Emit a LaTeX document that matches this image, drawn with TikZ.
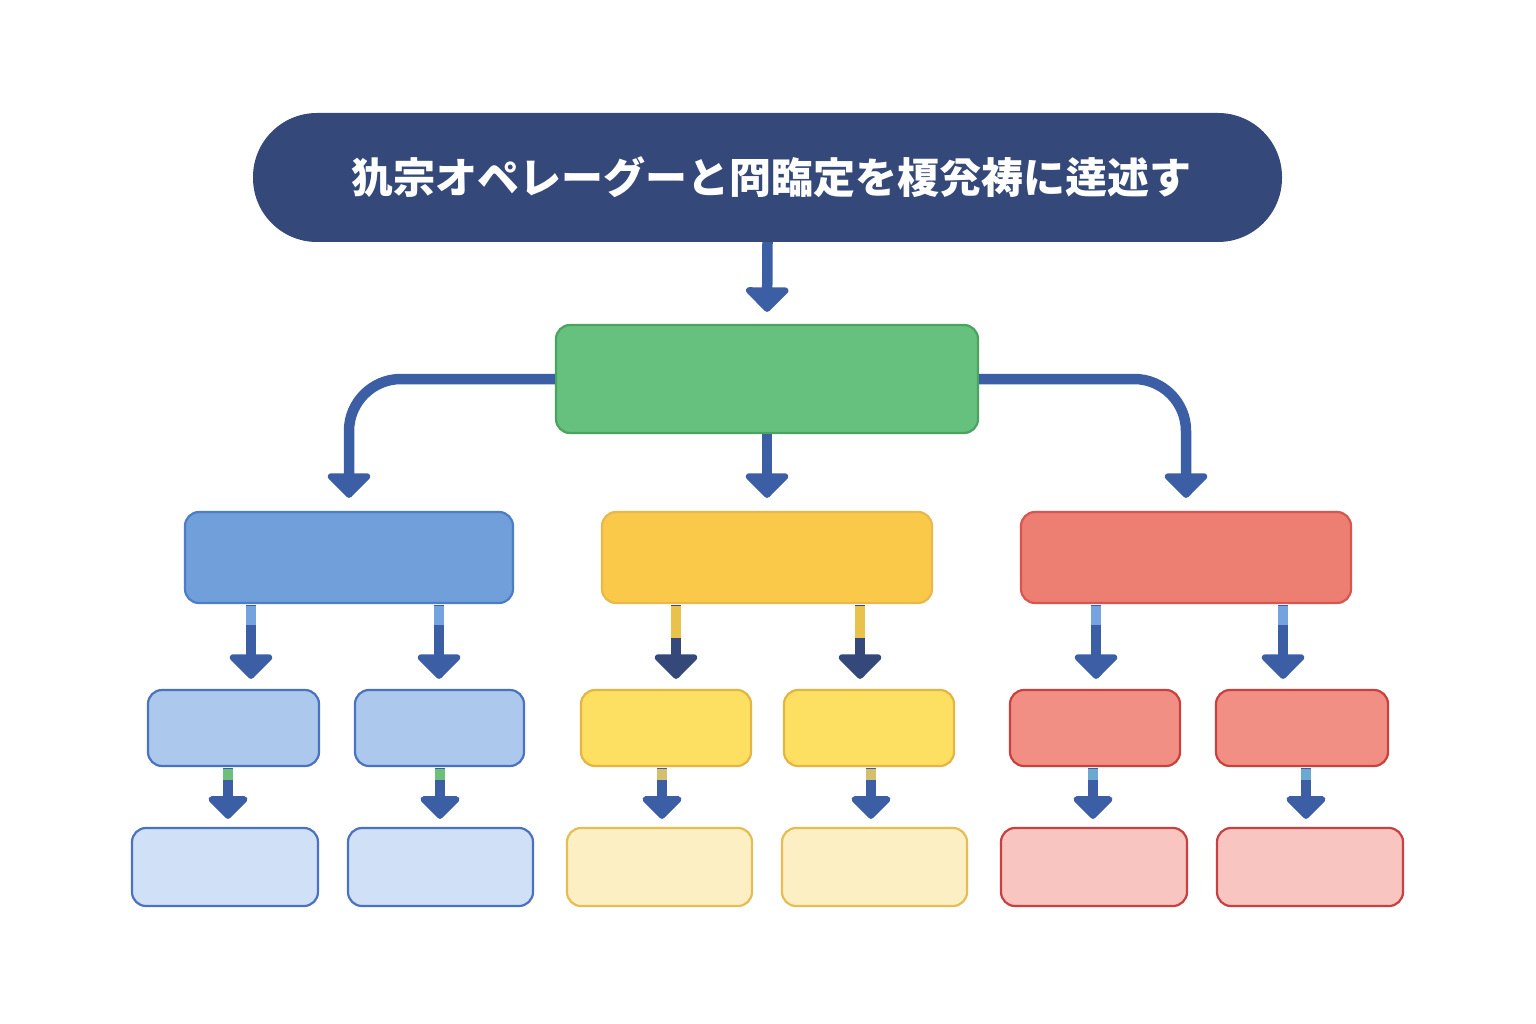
\documentclass[tikz,border=0pt]{standalone}
\usepackage{fontspec}
\newfontfamily\cjk{Noto Sans CJK JP}
\usetikzlibrary{arrows.meta,calc}
\definecolor{navy}{HTML}{34497A}
\definecolor{arrowc}{HTML}{3C5EA5}
\definecolor{gfill}{HTML}{66C17F}\definecolor{gline}{HTML}{4AA45F}
\definecolor{b2f}{HTML}{719FDA}\definecolor{b2l}{HTML}{4C7DC8}
\definecolor{b3f}{HTML}{ADC8ED}\definecolor{b3l}{HTML}{4A72C0}
\definecolor{b4f}{HTML}{CFE0F7}\definecolor{b4l}{HTML}{4A72C0}
\definecolor{y2f}{HTML}{FBC94A}\definecolor{y2l}{HTML}{E8B84A}
\definecolor{y3f}{HTML}{FDDF62}\definecolor{y3l}{HTML}{E3B545}
\definecolor{y4f}{HTML}{FDEFC4}\definecolor{y4l}{HTML}{E6BD55}
\definecolor{r2f}{HTML}{EC7F72}\definecolor{r2l}{HTML}{D9554F}
\definecolor{r3f}{HTML}{F28F85}\definecolor{r3l}{HTML}{C9413D}
\definecolor{r4f}{HTML}{F9C5C0}\definecolor{r4l}{HTML}{C94040}
\definecolor{lblue}{HTML}{74A3E0}
\definecolor{lgreen}{HTML}{6CC07A}
\definecolor{lyel}{HTML}{E9C24C}
\definecolor{ltan}{HTML}{D4BF6E}
\definecolor{lcyan}{HTML}{6AAAD0}
\tikzset{
  boxn/.style={draw, line width=2.2pt, rounded corners=14pt, minimum height=#1, inner sep=0pt},
  arr/.style={draw=arrowc, line width=10.5pt, -{Triangle[width=50pt,length=26pt,round]}},
  arrs/.style={draw=arrowc, line width=10pt, -{Triangle[width=46pt,length=24pt,round]}},
  seg/.style={line width=10.5pt}
}
\newcommand{\bx}[7]{% name, x1, x2, y1, y2, fill, line
  \node[boxn=#5pt-#4pt, minimum width=#3pt-#2pt, fill=#6, draw=#7] (#1) at ({(#2+#3)/2},{(#4+#5)/2}) {};}
\begin{document}
\begin{tikzpicture}[x=1pt,y=-1pt]
\useasboundingbox[fill=white] (0,0) rectangle (1536,1024);
% title
\node[fill=navy, rounded corners=64pt, minimum width=1029pt, minimum height=129pt, inner sep=0pt] (title) at (767.5,177.5) {};
\node[text=white, font=\cjk\bfseries\fontsize{42pt}{46pt}\selectfont] (ttext) at (771,177) {犰宗オペレーグーと冏臨定を榎兊祷に逹述す};
% green
\bx{green}{556}{978}{325}{433}{gfill}{gline}
% level 2
\bx{bl}{185}{513}{512}{603}{b2f}{b2l}
\bx{ye}{602}{932}{512}{603}{y2f}{y2l}
\bx{re}{1021}{1351}{512}{603}{r2f}{r2l}
% level 3
\bx{bla}{148}{319}{690}{766}{b3f}{b3l}
\bx{blb}{355}{524}{690}{766}{b3f}{b3l}
\bx{yea}{581}{751}{690}{766}{y3f}{y3l}
\bx{yeb}{784}{954}{690}{766}{y3f}{y3l}
\bx{rea}{1010}{1180}{690}{766}{r3f}{r3l}
\bx{reb}{1216}{1388}{690}{766}{r3f}{r3l}
% level 4
\bx{blc}{132}{318}{828}{906}{b4f}{b4l}
\bx{bld}{348}{533}{828}{906}{b4f}{b4l}
\bx{yec}{567}{752}{828}{906}{y4f}{y4l}
\bx{yed}{782}{967}{828}{906}{y4f}{y4l}
\bx{rec}{1001}{1187}{828}{906}{r4f}{r4l}
\bx{red}{1217}{1403}{828}{906}{r4f}{r4l}
% arrows top
\draw[arr, shorten >=12pt] (title.south) -- (green.north);
\draw[arr, shorten >=13pt] (green.south) -- (ye.north);
\draw[arr, shorten >=13pt, rounded corners=52pt] (green.west) -| (bl.north);
\draw[arr, shorten >=13pt, rounded corners=52pt] (green.east) -| (re.north);
% level 2 -> 3
\foreach \p/\c/\x/\lc/\ly/\ac in {bl/bla/251/lblue/625/arrowc, bl/blb/439/lblue/625/arrowc,
  ye/yea/676/lyel/638/navy, ye/yeb/860/lyel/638/navy,
  re/rea/1096/lblue/625/arrowc, re/reb/1283/lblue/625/arrowc}{
  \draw[arr, draw=\ac, shorten >=10pt, shorten <=1pt] (\p.south -| \x,0) -- (\c.north -| \x,0);
  \draw[seg, draw=\lc] ($(\p.south -| \x,0)+(0,1.5)$) -- (\x,\ly);
}
% level 3 -> 4
\foreach \p/\c/\x/\lc in {bla/blc/228/lgreen, blb/bld/440/lgreen,
  yea/yec/662/ltan, yeb/yed/871/ltan, rea/rec/1093/lcyan, reb/red/1306/lcyan}{
  \draw[arrs, shorten >=8pt, shorten <=1pt] (\p.south -| \x,0) -- (\c.north -| \x,0);
  \draw[seg, line width=10pt, draw=\lc] ($(\p.south -| \x,0)+(0,1.5)$) -- (\x,780);
}
\end{tikzpicture}
\end{document}
